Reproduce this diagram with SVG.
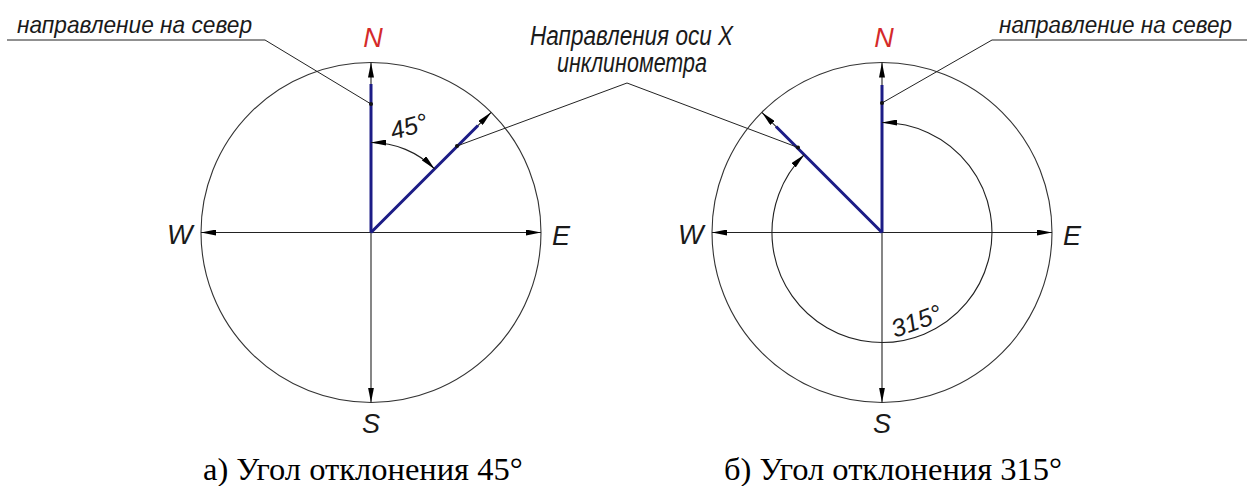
<svg xmlns="http://www.w3.org/2000/svg" width="1247" height="486" viewBox="0 0 1247 486">
<style>
.circ{fill:none;stroke:#333;stroke-width:1.1}
.axis{fill:none;stroke:#222;stroke-width:1.1}
.blue{fill:none;stroke:#1c1c86;stroke-width:3}
.lead{fill:none;stroke:#222;stroke-width:1}
.lbl{font-family:"Liberation Sans",Arial,sans-serif;font-style:italic;fill:#1a1a1a}
.dir{font-family:"Liberation Sans",Arial,sans-serif;font-style:italic;font-size:27px;fill:#1a1a1a}
.north{font-family:"Liberation Sans",Arial,sans-serif;font-style:italic;font-size:27px;fill:#d42a2a}
.cap{font-family:"Liberation Serif","Times New Roman",serif;font-size:32.5px;fill:#000}
</style>
<defs>
<marker id="arr" viewBox="0 0 15 6" refX="15" refY="3" markerWidth="15" markerHeight="6" markerUnits="userSpaceOnUse" orient="auto-start-reverse">
<path d="M0,0 L15,3 L0,6 Z" fill="#000"/>
</marker>
</defs>

<g id="compass-a">
<circle class="circ" cx="371" cy="232.5" r="170"/>
<line class="axis" x1="371" y1="62.5" x2="371" y2="402.5" marker-start="url(#arr)" marker-end="url(#arr)"/>
<line class="axis" x1="201" y1="232.5" x2="541" y2="232.5" marker-start="url(#arr)" marker-end="url(#arr)"/>
<line class="axis" x1="371" y1="232.5" x2="491.2" y2="112.3" marker-end="url(#arr)"/>
<line class="blue" x1="371" y1="232.5" x2="371" y2="84"/>
<line class="blue" x1="371" y1="232.5" x2="478" y2="125.5"/>
<path class="axis" d="M371,142.5 A90,90 0 0 1 434.6,168.9" marker-start="url(#arr)" marker-end="url(#arr)"/>
<text class="lbl" font-size="25" transform="translate(393,140) rotate(-16)">45°</text>
<text class="north" x="373" y="47" text-anchor="middle">N</text>
<text class="dir" x="167" y="244">W</text>
<text class="dir" x="552" y="245">E</text>
<text class="dir" x="371" y="433" text-anchor="middle">S</text>
</g>

<g id="compass-b">
<circle class="circ" cx="882" cy="232.5" r="170"/>
<line class="axis" x1="882" y1="62.5" x2="882" y2="402.5" marker-start="url(#arr)" marker-end="url(#arr)"/>
<line class="axis" x1="712" y1="232.5" x2="1052" y2="232.5" marker-start="url(#arr)" marker-end="url(#arr)"/>
<line class="axis" x1="882" y1="232.5" x2="761.8" y2="112.3" marker-end="url(#arr)"/>
<line class="blue" x1="882" y1="232.5" x2="882" y2="85"/>
<line class="blue" x1="882" y1="232.5" x2="776" y2="126.5"/>
<path class="axis" d="M882,122.5 A110,110 0 1 1 804.2,154.7" marker-start="url(#arr)" marker-end="url(#arr)"/>
<text class="lbl" font-size="25" transform="translate(895,338) rotate(-20)">315°</text>
<text class="north" x="884" y="47" text-anchor="middle">N</text>
<text class="dir" x="678" y="244">W</text>
<text class="dir" x="1063" y="245">E</text>
<text class="dir" x="882" y="433" text-anchor="middle">S</text>
</g>

<g id="connectors">
<polyline class="lead" points="7,40 265,40 371,104"/>
<circle cx="371" cy="104" r="2" fill="#111"/>
<polyline class="lead" points="457,146 627,83 798,147.5"/>
<circle cx="457" cy="146" r="2" fill="#111"/>
<circle cx="798" cy="147.5" r="2" fill="#111"/>
<polyline class="lead" points="1247,40 992,40 882,103"/>
<circle cx="882" cy="103" r="2" fill="#111"/>
</g>

<g id="label-north-a">
<text class="lbl" font-size="24" x="17" y="33" textLength="235" lengthAdjust="spacingAndGlyphs">направление на север</text>
</g>
<g id="label-x-axis">
<text class="lbl" font-size="27" x="530" y="45" textLength="203" lengthAdjust="spacingAndGlyphs">Направления оси X</text>
<text class="lbl" font-size="27" x="557" y="72" textLength="150" lengthAdjust="spacingAndGlyphs">инклинометра</text>
</g>
<g id="label-north-b">
<text class="lbl" font-size="23.5" x="999" y="33" textLength="233" lengthAdjust="spacingAndGlyphs">направление на север</text>
</g>

<g id="captions">
<text class="cap" x="203" y="480">а) Угол отклонения 45°</text>
<text class="cap" x="724" y="480">б) Угол отклонения 315°</text>
</g>
</svg>
